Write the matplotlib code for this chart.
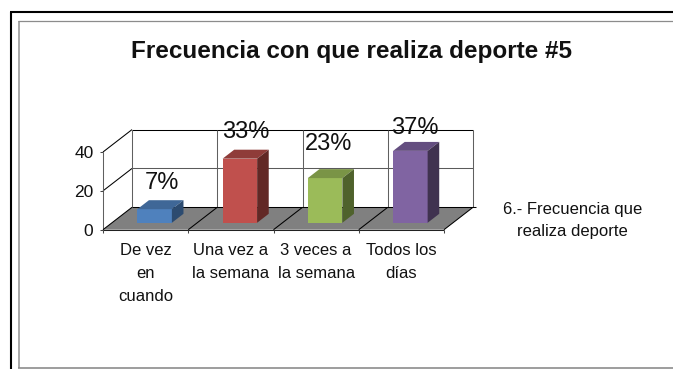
import matplotlib
matplotlib.use("Agg")
import matplotlib.pyplot as plt
from matplotlib.patches import Polygon

categories = ["De vez\nen\ncuando", "Una vez a\nla semana", "3 veces a\nla semana", "Todos los\ndías"]
values = [7, 33, 23, 37]
value_labels = ["7%", "33%", "23%", "37%"]
yticks = [0, 20, 40]
title = "Frecuencia con que realiza deporte #5"
legend_text = "6.- Frecuencia que\nrealiza deporte"

front_colors = ["#4f81bd", "#c0504d", "#9bbb59", "#8064a2"]
top_colors = ["#3f6797", "#8f3c39", "#7a9446", "#644e80"]
side_colors = ["#2c4b70", "#622825", "#4f622c", "#403250"]

# pseudo-3D layout, in pixels
X0, Y0 = 103.0, 229.7
CAT_W = 85.25
VAL_H = 77.7 / 40
DEPTH_X, DEPTH_Y = 29.0, 22.4
BAR_W = 0.405
BAR_Z0, BAR_Z1 = 0.31, 0.71
YMAX = 40
label_y = [183, 132, 143.5, 128.5]
label_dx = [16, 15, 12, 13]


def pt(cat, val=0, z=0):
    return X0 + cat * CAT_W + z * DEPTH_X, Y0 - val * VAL_H - z * DEPTH_Y


def line(ax, a, b, color="black", lw=0.75, zorder=2):
    ax.plot([a[0], b[0]], [a[1], b[1]], color=color, lw=lw, zorder=zorder, solid_capstyle="butt")


def main():
    plt.rcParams["font.family"] = ["Liberation Sans", "DejaVu Sans"]
    fig = plt.figure(figsize=(6.73, 3.69), dpi=100)
    ax = fig.add_axes([0, 0, 1, 1])
    ax.set_xlim(0, 673)
    ax.set_ylim(369, 0)
    ax.axis("off")

    # page frames
    line(ax, (11, 12), (11, 369), lw=1.5)
    line(ax, (10, 12), (673, 12), lw=1.5)
    line(ax, (19, 20.5), (19, 368), color="#999999", lw=1.2)
    line(ax, (18, 20.5), (673, 20.5), color="#8c8c8c", lw=0.9)
    line(ax, (18, 368.3), (673, 368.3), color="#8c8c8c", lw=1.2)

    n = len(categories)
    ax.add_patch(Polygon([pt(0), pt(n), pt(n, 0, 1), pt(0, 0, 1)], fc="#808080", ec="none", zorder=1))

    # back wall and left wall
    for v in yticks[1:]:
        color = "black" if v == YMAX else "#5a5a5a"
        line(ax, pt(0, v, 1), pt(n, v, 1), color=color)
        line(ax, pt(0, v), pt(0, v, 1))
    for i in range(n + 1):
        line(ax, pt(i, 0, 1), pt(i, YMAX, 1), color="#606060")
    line(ax, pt(0), pt(0, YMAX), color="#606060")
    line(ax, pt(0, 0, 1), (pt(n, 0, 1)[0] + 3, pt(n, 0, 1)[1]))

    # floor edges and ticks
    line(ax, pt(0), pt(n), color="#222222")
    for i in range(n + 1):
        line(ax, pt(i), pt(i, 0, 1))
        line(ax, pt(i), (pt(i)[0], pt(i)[1] + 3.5), color="#444444")
    for v in yticks:
        x, y = pt(0, v)
        line(ax, (x - 3.5, y), (x, y), color="#444444")
        ax.text(x - 9.5, y + 1.5, str(v), ha="right", va="center", fontsize=12.5, color="#111111")

    # bars
    for i, v in enumerate(values):
        a = i + 0.5 - BAR_W / 2
        b = i + 0.5 + BAR_W / 2
        ax.add_patch(Polygon([pt(a, 0, BAR_Z0), pt(b, 0, BAR_Z0), pt(b, v, BAR_Z0), pt(a, v, BAR_Z0)],
                             fc=front_colors[i], ec="none", zorder=4))
        ax.add_patch(Polygon([pt(a, v, BAR_Z0), pt(b, v, BAR_Z0), pt(b, v, BAR_Z1), pt(a, v, BAR_Z1)],
                             fc=top_colors[i], ec="none", zorder=4))
        ax.add_patch(Polygon([pt(b, 0, BAR_Z0), pt(b, 0, BAR_Z1), pt(b, v, BAR_Z1), pt(b, v, BAR_Z0)],
                             fc=side_colors[i], ec="none", zorder=4))
        ax.text(pt(i + 0.5)[0] + label_dx[i], label_y[i], value_labels[i], ha="center", va="center",
                fontsize=17, color="#111111", zorder=5)
        ax.text(pt(i + 0.5)[0], 243, categories[i], ha="center", va="top", fontsize=12,
                linespacing=1.65, color="#111111")

    ax.text(351.5, 51.5, title, ha="center", va="center", fontsize=17.5, fontweight="bold", color="#111111")
    ax.text(572.5, 220.5, legend_text, ha="center", va="center", fontsize=12, linespacing=1.65, color="#111111")

    fig.savefig("out.png", dpi=100)
    plt.close()


if __name__ == "__main__":
    main()
